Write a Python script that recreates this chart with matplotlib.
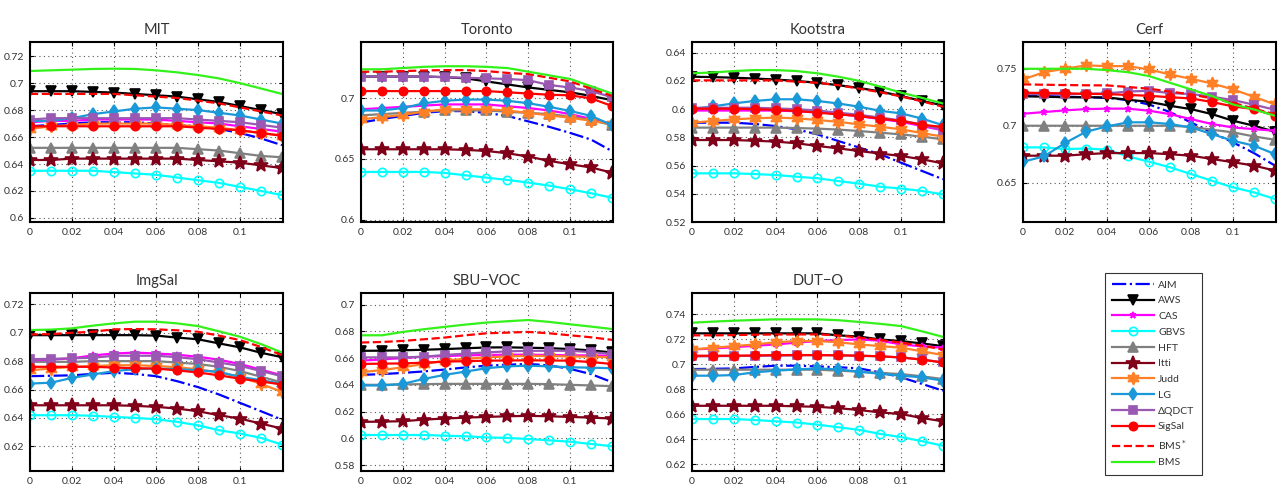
import matplotlib
matplotlib.use("Agg")
import matplotlib.pyplot as plt
from matplotlib.ticker import FuncFormatter

plt.rcParams["font.family"] = ["Lato", "DejaVu Sans"]

# x: blur / center-bias weight
x = [0.00, 0.01, 0.02, 0.03, 0.04, 0.05, 0.06, 0.07, 0.08, 0.09, 0.10, 0.11, 0.12]

methods = ["AIM", "AWS", "CAS", "GBVS", "HFT", "Itti", "Judd", "LG",
           "\u0394QDCT", "SigSal", "BMS$^*$", "BMS"]

mit = {
    "AIM":    [0.668, 0.669, 0.670, 0.671, 0.671, 0.671, 0.670, 0.669, 0.668, 0.666, 0.663, 0.659, 0.654],
    "AWS":    [0.694, 0.694, 0.694, 0.6935, 0.693, 0.692, 0.691, 0.690, 0.688, 0.686, 0.683, 0.680, 0.677],
    "CAS":    [0.671, 0.672, 0.672, 0.673, 0.673, 0.673, 0.673, 0.672, 0.671, 0.670, 0.668, 0.666, 0.664],
    "GBVS":   [0.635, 0.635, 0.635, 0.635, 0.634, 0.633, 0.632, 0.630, 0.628, 0.626, 0.623, 0.620, 0.617],
    "HFT":    [0.652, 0.652, 0.652, 0.652, 0.652, 0.652, 0.652, 0.652, 0.651, 0.650, 0.648, 0.646, 0.645],
    "Itti":   [0.643, 0.643, 0.644, 0.644, 0.644, 0.644, 0.644, 0.644, 0.643, 0.642, 0.641, 0.639, 0.637],
    "Judd":   [0.666, 0.668, 0.669, 0.670, 0.670, 0.670, 0.670, 0.669, 0.668, 0.667, 0.665, 0.663, 0.661],
    "LG":     [0.672, 0.672, 0.674, 0.677, 0.679, 0.681, 0.682, 0.681, 0.680, 0.678, 0.676, 0.673, 0.670],
    "QDCT":   [0.673, 0.674, 0.674, 0.674, 0.674, 0.674, 0.674, 0.674, 0.673, 0.672, 0.671, 0.669, 0.667],
    "SigSal": [0.668, 0.668, 0.668, 0.668, 0.668, 0.668, 0.668, 0.668, 0.667, 0.666, 0.665, 0.663, 0.661],
    "BMSs":   [0.692, 0.692, 0.692, 0.692, 0.692, 0.691, 0.690, 0.689, 0.687, 0.685, 0.682, 0.679, 0.676],
    "BMS":    [0.709, 0.7095, 0.710, 0.7105, 0.7107, 0.7105, 0.7095, 0.708, 0.706, 0.7035, 0.700, 0.696, 0.692],
}

toronto = {
    "AIM":    [0.680, 0.683, 0.6855, 0.688, 0.6895, 0.6895, 0.688, 0.6855, 0.681, 0.6765, 0.6715, 0.666, 0.6565],
    "AWS":    [0.718, 0.718, 0.718, 0.718, 0.7175, 0.7165, 0.714, 0.7115, 0.709, 0.707, 0.705, 0.702, 0.6985],
    "CAS":    [0.691, 0.692, 0.693, 0.694, 0.695, 0.695, 0.695, 0.6935, 0.692, 0.690, 0.687, 0.683, 0.679],
    "GBVS":   [0.6393, 0.6393, 0.6393, 0.6393, 0.6385, 0.6365, 0.6346, 0.6327, 0.6305, 0.628, 0.625, 0.6217, 0.618],
    "HFT":    [0.686, 0.687, 0.688, 0.689, 0.690, 0.690, 0.690, 0.689, 0.688, 0.687, 0.685, 0.682, 0.678],
    "Itti":   [0.658, 0.658, 0.658, 0.658, 0.658, 0.6575, 0.6566, 0.6547, 0.652, 0.6484, 0.6456, 0.643, 0.6387],
    "Judd":   [0.6827, 0.6845, 0.6863, 0.689, 0.691, 0.691, 0.691, 0.690, 0.688, 0.686, 0.684, 0.6815, 0.679],
    "LG":     [0.690, 0.690, 0.692, 0.6959, 0.698, 0.699, 0.699, 0.698, 0.696, 0.693, 0.6896, 0.6855, 0.678],
    "QDCT":   [0.718, 0.718, 0.718, 0.718, 0.7175, 0.717, 0.7165, 0.716, 0.715, 0.711, 0.709, 0.706, 0.701],
    "SigSal": [0.706, 0.706, 0.706, 0.706, 0.706, 0.706, 0.706, 0.705, 0.704, 0.703, 0.7025, 0.700, 0.6937],
    "BMSs":   [0.722, 0.722, 0.7225, 0.723, 0.7233, 0.7233, 0.7225, 0.721, 0.720, 0.717, 0.714, 0.708, 0.702],
    "BMS":    [0.724, 0.724, 0.725, 0.726, 0.7265, 0.7265, 0.726, 0.725, 0.722, 0.719, 0.716, 0.710, 0.704],
}

kootstra = {
    "AIM":    [0.5904, 0.5904, 0.5904, 0.5895, 0.588, 0.5857, 0.5821, 0.5774, 0.5727, 0.568, 0.562, 0.5562, 0.5503],
    "AWS":    [0.623, 0.6227, 0.6223, 0.6217, 0.621, 0.620, 0.6187, 0.617, 0.615, 0.6125, 0.6093, 0.6058, 0.6027],
    "CAS":    [0.599, 0.599, 0.599, 0.599, 0.599, 0.5985, 0.598, 0.5965, 0.595, 0.593, 0.591, 0.588, 0.585],
    "GBVS":   [0.5545, 0.5545, 0.5545, 0.554, 0.5533, 0.5521, 0.551, 0.549, 0.5472, 0.545, 0.5437, 0.542, 0.5396],
    "HFT":    [0.5869, 0.5869, 0.5869, 0.5869, 0.5869, 0.5866, 0.5862, 0.5855, 0.5845, 0.5833, 0.5821, 0.5805, 0.5786],
    "Itti":   [0.5781, 0.5781, 0.5781, 0.5776, 0.577, 0.5758, 0.5739, 0.5722, 0.5703, 0.5685, 0.5668, 0.5644, 0.5616],
    "Judd":   [0.5904, 0.5916, 0.5928, 0.5935, 0.594, 0.5935, 0.5923, 0.591, 0.5892, 0.5875, 0.5857, 0.583, 0.5805],
    "LG":     [0.600, 0.602, 0.6041, 0.6058, 0.607, 0.607, 0.6058, 0.604, 0.6017, 0.5988, 0.597, 0.5933, 0.5886],
    "QDCT":   [0.601, 0.601, 0.601, 0.601, 0.6005, 0.600, 0.599, 0.5975, 0.596, 0.594, 0.592, 0.589, 0.5855],
    "SigSal": [0.6003, 0.6003, 0.6003, 0.6, 0.5995, 0.5987, 0.5975, 0.5963, 0.5951, 0.5933, 0.5916, 0.589, 0.5873],
    "BMSs":   [0.6204, 0.6204, 0.6204, 0.6204, 0.6204, 0.6195, 0.6187, 0.617, 0.6145, 0.612, 0.609, 0.6055, 0.6017],
    "BMS":    [0.6254, 0.626, 0.627, 0.6277, 0.6277, 0.627, 0.6254, 0.623, 0.620, 0.616, 0.6117, 0.608, 0.604],
}

cerf = {
    "AIM":    [0.726, 0.726, 0.7255, 0.725, 0.7245, 0.7225, 0.7187, 0.712, 0.7029, 0.694, 0.6854, 0.676, 0.665],
    "AWS":    [0.726, 0.7255, 0.725, 0.725, 0.7248, 0.7228, 0.721, 0.7175, 0.7146, 0.7102, 0.7044, 0.700, 0.6947],
    "CAS":    [0.7105, 0.712, 0.7135, 0.7146, 0.715, 0.715, 0.7132, 0.7102, 0.7058, 0.7015, 0.6985, 0.697, 0.6956],
    "GBVS":   [0.681, 0.681, 0.6795, 0.680, 0.679, 0.6731, 0.6684, 0.6635, 0.6576, 0.6517, 0.6459, 0.6415, 0.6357],
    "HFT":    [0.700, 0.700, 0.700, 0.700, 0.700, 0.700, 0.700, 0.700, 0.699, 0.6965, 0.6942, 0.6906, 0.6877],
    "Itti":   [0.6737, 0.6737, 0.6737, 0.675, 0.676, 0.676, 0.676, 0.675, 0.6737, 0.6708, 0.668, 0.665, 0.6606],
    "Judd":   [0.7406, 0.747, 0.750, 0.753, 0.7523, 0.7523, 0.7494, 0.745, 0.7412, 0.7371, 0.7319, 0.7254, 0.7187],
    "LG":     [0.6684, 0.6731, 0.6848, 0.6947, 0.6994, 0.703, 0.703, 0.7015, 0.6985, 0.6927, 0.6868, 0.6825, 0.6751],
    "QDCT":   [0.7278, 0.7278, 0.7278, 0.728, 0.7284, 0.730, 0.7307, 0.7287, 0.7278, 0.7255, 0.7225, 0.7185, 0.714],
    "SigSal": [0.729, 0.7287, 0.7284, 0.728, 0.7278, 0.727, 0.7263, 0.725, 0.724, 0.7208, 0.717, 0.7146, 0.7088],
    "BMSs":   [0.7363, 0.736, 0.7357, 0.7355, 0.7354, 0.734, 0.7325, 0.730, 0.7275, 0.724, 0.7202, 0.715, 0.710],
    "BMS":    [0.750, 0.750, 0.750, 0.750, 0.7488, 0.747, 0.7436, 0.7377, 0.7319, 0.726, 0.7187, 0.7143, 0.7088],
}

imgsal = {
    "AIM":    [0.6694, 0.6697, 0.670, 0.671, 0.6718, 0.671, 0.6694, 0.6659, 0.6617, 0.6565, 0.6506, 0.6447, 0.6388],
    "AWS":    [0.6983, 0.6983, 0.6983, 0.6983, 0.6983, 0.6983, 0.698, 0.6966, 0.6954, 0.6925, 0.6897, 0.6859, 0.6828],
    "CAS":    [0.680, 0.681, 0.682, 0.684, 0.6854, 0.686, 0.6854, 0.6845, 0.6831, 0.681, 0.678, 0.674, 0.670],
    "GBVS":   [0.6419, 0.6419, 0.6419, 0.6415, 0.6407, 0.640, 0.6391, 0.6372, 0.6348, 0.6313, 0.629, 0.6259, 0.6212],
    "HFT":    [0.6795, 0.6795, 0.6795, 0.680, 0.680, 0.680, 0.680, 0.679, 0.678, 0.676, 0.673, 0.669, 0.665],
    "Itti":   [0.6489, 0.6489, 0.6489, 0.6489, 0.6489, 0.6485, 0.6478, 0.6466, 0.6447, 0.6419, 0.6395, 0.636, 0.6325],
    "Judd":   [0.6736, 0.6748, 0.6759, 0.6766, 0.6771, 0.6771, 0.6766, 0.6757, 0.6743, 0.672, 0.6689, 0.664, 0.6583],
    "LG":     [0.6642, 0.6648, 0.6682, 0.6706, 0.673, 0.6743, 0.6748, 0.6743, 0.6736, 0.6724, 0.6689, 0.6666, 0.664],
    "QDCT":   [0.6814, 0.6816, 0.682, 0.6824, 0.6838, 0.6838, 0.6838, 0.6828, 0.6814, 0.679, 0.6767, 0.673, 0.6694],
    "SigSal": [0.676, 0.676, 0.676, 0.676, 0.6755, 0.675, 0.6748, 0.6735, 0.672, 0.670, 0.6676, 0.6657, 0.6635],
    "BMSs":   [0.6988, 0.699, 0.700, 0.7007, 0.7024, 0.7026, 0.7024, 0.7017, 0.7007, 0.698, 0.6948, 0.690, 0.6842],
    "BMS":    [0.7019, 0.7022, 0.7031, 0.705, 0.7066, 0.7078, 0.7078, 0.7066, 0.7047, 0.701, 0.6972, 0.692, 0.6861],
}

sbu = {
    "AIM":    [0.6474, 0.648, 0.6489, 0.650, 0.6514, 0.653, 0.6543, 0.655, 0.6556, 0.6545, 0.6519, 0.648, 0.642],
    "AWS":    [0.6654, 0.6655, 0.6658, 0.6662, 0.6667, 0.6673, 0.6679, 0.668, 0.6677, 0.6674, 0.6667, 0.6657, 0.6642],
    "CAS":    [0.658, 0.659, 0.660, 0.661, 0.6615, 0.662, 0.6623, 0.6625, 0.6625, 0.6623, 0.662, 0.662, 0.6617],
    "GBVS":   [0.6025, 0.6025, 0.6025, 0.6025, 0.602, 0.6015, 0.6007, 0.6003, 0.5995, 0.5985, 0.5975, 0.5958, 0.5941],
    "HFT":    [0.640, 0.640, 0.6403, 0.6405, 0.6407, 0.6407, 0.6407, 0.6407, 0.6407, 0.6405, 0.640, 0.6395, 0.639],
    "Itti":   [0.6123, 0.6125, 0.6128, 0.614, 0.6148, 0.6155, 0.616, 0.6165, 0.6168, 0.6165, 0.616, 0.6155, 0.6148],
    "Judd":   [0.6494, 0.651, 0.6531, 0.6555, 0.658, 0.6595, 0.6605, 0.6612, 0.6617, 0.6615, 0.6612, 0.661, 0.6605],
    "LG":     [0.6395, 0.6395, 0.6407, 0.6444, 0.6474, 0.6499, 0.6524, 0.6538, 0.6543, 0.6538, 0.6531, 0.6528, 0.6524],
    "QDCT":   [0.6605, 0.6605, 0.6605, 0.661, 0.6623, 0.6633, 0.6642, 0.665, 0.6654, 0.6654, 0.6654, 0.6645, 0.663],
    "SigSal": [0.6556, 0.6558, 0.656, 0.6565, 0.6573, 0.6577, 0.658, 0.6582, 0.6583, 0.6582, 0.658, 0.657, 0.6556],
    "BMSs":   [0.6716, 0.672, 0.6728, 0.674, 0.6753, 0.677, 0.6785, 0.679, 0.6795, 0.6785, 0.677, 0.6755, 0.6736],
    "BMS":    [0.677, 0.677, 0.6795, 0.6815, 0.6833, 0.685, 0.6865, 0.6875, 0.6884, 0.687, 0.6852, 0.6835, 0.6817],
}

duto = {
    "AIM":    [0.6963, 0.6965, 0.6968, 0.698, 0.699, 0.699, 0.6984, 0.6978, 0.6968, 0.6937, 0.6897, 0.6844, 0.679],
    "AWS":    [0.7249, 0.7249, 0.7249, 0.7249, 0.7249, 0.7249, 0.7249, 0.7233, 0.7223, 0.720, 0.7187, 0.7168, 0.7147],
    "CAS":    [0.712, 0.7128, 0.7138, 0.715, 0.716, 0.7175, 0.7187, 0.7195, 0.720, 0.719, 0.716, 0.7145, 0.7134],
    "GBVS":   [0.6563, 0.6563, 0.6563, 0.6555, 0.6545, 0.6535, 0.6518, 0.6497, 0.6476, 0.6444, 0.6418, 0.6386, 0.6349],
    "HFT":    [0.6958, 0.6958, 0.6958, 0.6958, 0.6958, 0.6958, 0.6958, 0.695, 0.6942, 0.6932, 0.6923, 0.6905, 0.6883],
    "Itti":   [0.6669, 0.6669, 0.6669, 0.6669, 0.6669, 0.6665, 0.6661, 0.665, 0.6635, 0.6616, 0.6603, 0.6571, 0.6545],
    "Judd":   [0.712, 0.7134, 0.7147, 0.716, 0.7178, 0.7187, 0.7187, 0.7178, 0.716, 0.7147, 0.7134, 0.7105, 0.7075],
    "LG":     [0.691, 0.691, 0.6915, 0.6937, 0.695, 0.696, 0.6968, 0.696, 0.6942, 0.6925, 0.691, 0.6897, 0.687],
    "QDCT":   [0.7064, 0.7066, 0.7068, 0.7069, 0.707, 0.7073, 0.7075, 0.7073, 0.707, 0.7065, 0.7056, 0.704, 0.7016],
    "SigSal": [0.707, 0.707, 0.707, 0.7072, 0.7075, 0.7075, 0.7075, 0.7073, 0.707, 0.7065, 0.7056, 0.7038, 0.7016],
    "BMSs":   [0.7233, 0.7233, 0.7235, 0.7238, 0.724, 0.724, 0.7241, 0.7232, 0.7215, 0.7196, 0.7175, 0.715, 0.712],
    "BMS":    [0.7334, 0.7343, 0.735, 0.7356, 0.7361, 0.7361, 0.7361, 0.7354, 0.734, 0.7325, 0.7307, 0.7265, 0.7221],
}

titles = ["MIT", "Toronto", "Kootstra", "Cerf", "ImgSal", "SBU\u2212VOC", "DUT\u2212O"]
datasets = [mit, toronto, kootstra, cerf, imgsal, sbu, duto]
ylims = [(0.597, 0.7305), (0.598, 0.7465), (0.52, 0.6476), (0.6155, 0.7735),
         (0.6026, 0.728), (0.5756, 0.7086), (0.6147, 0.7572)]
yticks = [[0.60, 0.62, 0.64, 0.66, 0.68, 0.70, 0.72],
          [0.60, 0.65, 0.70],
          [0.52, 0.54, 0.56, 0.58, 0.60, 0.62, 0.64],
          [0.65, 0.70, 0.75],
          [0.62, 0.64, 0.66, 0.68, 0.70, 0.72],
          [0.58, 0.60, 0.62, 0.64, 0.66, 0.68, 0.70],
          [0.62, 0.64, 0.66, 0.68, 0.70, 0.72, 0.74]]
xticks = [0, 0.02, 0.04, 0.06, 0.08, 0.1]

# style per method: key, color, linestyle, marker, markersize, filled
styles = [
    ("AIM",    (0.0, 0.0, 1.0),    "-.", None, 0, True),
    ("AWS",    (0.0, 0.0, 0.0),    "-",  "v", 7, True),
    ("CAS",    (1.0, 0.0, 1.0),    "-",  "*", 5, True),
    ("GBVS",   (0.0, 1.0, 1.0),    "-",  "o", 6, False),
    ("HFT",    (0.5, 0.5, 0.5),    "-",  "^", 7, True),
    ("Itti",   (0.5, 0.0, 0.1),    "-",  "*", 10, True),
    ("Judd",   (1.0, 0.5, 0.15),   "-",  (6, 1, 0), 9, True),
    ("LG",     (0.1, 0.6, 0.85),   "-",  "d", 6, True),
    ("QDCT",   (0.6, 0.35, 0.7),   "-",  "s", 6, True),
    ("SigSal", (1.0, 0.0, 0.0),    "-",  "o", 6, True),
    ("BMSs",   (1.0, 0.0, 0.0),    "--", None, 0, True),
    ("BMS",    (0.2, 0.95, 0.1),   "-",  None, 0, True),
]

W, H = 1278, 497
fig = plt.figure(figsize=(W / 100, H / 100), dpi=100)

cols_px = [(30, 283), (361, 613), (692, 944), (1023, 1276)]
rows_px = [(42, 222), (293, 471)]

text_col = "#333333"
handles = []
for i, (name, data) in enumerate(zip(titles, datasets)):
    r, c = divmod(i, 4)
    x0, x1 = cols_px[c]
    y0, y1 = rows_px[r]
    ax = fig.add_axes([x0 / W, 1 - y1 / H, (x1 - x0) / W, (y1 - y0) / H])
    for key, col, ls, mk, ms, filled in styles:
        kw = dict(color=col, linestyle=ls, linewidth=1.6)
        if mk is not None:
            kw.update(marker=mk, markersize=ms, markeredgecolor=col,
                      markerfacecolor=col if filled else "none",
                      markeredgewidth=1.2)
        (ln,) = ax.plot(x, data[key], **kw)
        if i == 0:
            handles.append(ln)
    ax.set_xlim(0, 0.1205)
    ax.set_ylim(*ylims[i])
    ax.set_xticks(xticks)
    ax.set_yticks(yticks[i])
    ax.xaxis.set_major_formatter(FuncFormatter(lambda v, p: "%g" % round(v, 4)))
    ax.yaxis.set_major_formatter(FuncFormatter(lambda v, p: "%g" % round(v, 4)))
    ax.grid(True, linestyle=(0, (1, 3)), color="#555555", linewidth=0.8)
    ax.tick_params(direction="in", length=3, labelsize=7.5, colors="k",
                   labelcolor=text_col, top=True, right=True, pad=4)
    for sp in ax.spines.values():
        sp.set_linewidth(1.5)
    ax.set_title(name, fontsize=10.5, color=text_col, pad=6)

leg = fig.legend(handles, methods, loc="upper left",
                 bbox_to_anchor=(1105 / W, 1 - 273 / H),
                 fontsize=7.5, frameon=True, fancybox=False,
                 handlelength=4.0, handletextpad=0.4, labelspacing=0.62,
                 borderpad=0.7, borderaxespad=0)
leg.get_frame().set_edgecolor("k")
leg.get_frame().set_linewidth(0.8)
for t in leg.get_texts():
    t.set_color(text_col)

fig.savefig("out.png", dpi=100)
